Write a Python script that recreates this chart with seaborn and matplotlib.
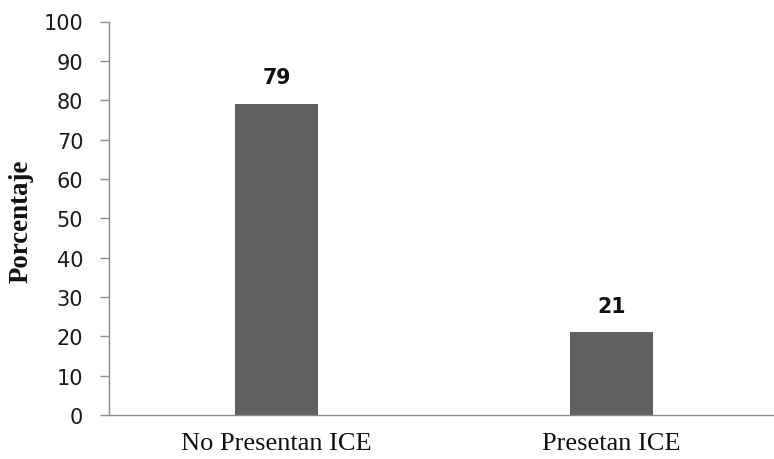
import matplotlib
matplotlib.use("Agg")
import matplotlib.pyplot as plt
import seaborn as sns
import pandas as pd

categories = ["No Presentan ICE", "Presetan ICE"]
values = [79, 21]
yticks = [0, 10, 20, 30, 40, 50, 60, 70, 80, 90, 100]

sns.set_style("white")
plt.rcParams["font.family"] = ["DejaVu Sans"]

df = pd.DataFrame({"cat": categories, "val": values})

fig = plt.figure(figsize=(7.74, 4.6), dpi=100)
ax = fig.add_axes([109/774, 1 - 416/460, 1 - 109/774, (416 - 22.5)/460])

sns.barplot(data=df, x="cat", y="val", color="#606060", saturation=1,
            width=0.25, ax=ax, edgecolor="none")

ax.set_ylim(0, 100)
ax.set_xlim(-0.5, (774 - 109)/335 - 0.5)
ax.set_yticks(yticks)
ax.set_yticklabels([str(t) for t in yticks], fontsize=15, color="#1a1a1a")
ax.tick_params(axis="y", length=6.5, width=1, color="#8c8c8c", pad=12, left=True)
ax.tick_params(axis="x", length=0, pad=12.5)
for lbl in ax.get_xticklabels():
    lbl.set_fontfamily("Liberation Serif")
    lbl.set_fontsize(19)
    lbl.set_color("#111111")

for s in ["top", "right"]:
    ax.spines[s].set_visible(False)
for s in ["left", "bottom"]:
    ax.spines[s].set_color("#8c8c8c")
    ax.spines[s].set_linewidth(1)

ax.set_xlabel("")
ax.set_ylabel("Porcentaje", fontfamily="Liberation Serif", fontweight="bold",
              fontsize=19.4, color="#111111")
ax.yaxis.set_label_coords(-(109 - 34)/665, (416 - 221)/393.5)

for i, v in enumerate(values):
    ax.annotate(str(v), xy=(i, v), xytext=(0, 12), textcoords="offset points",
                ha="center", va="bottom", fontsize=14.8, fontweight="bold",
                color="#111111")

fig.savefig("out.png", dpi=100)
